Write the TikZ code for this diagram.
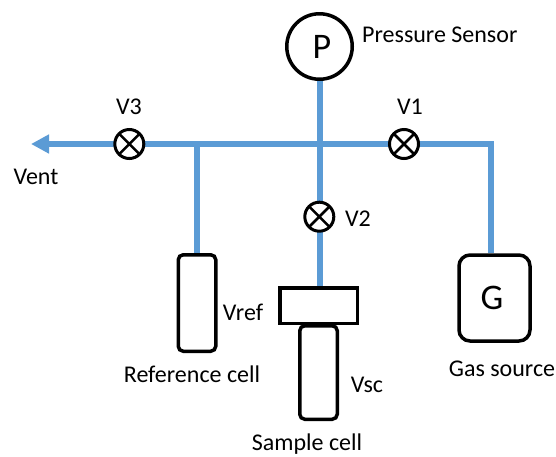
\documentclass[tikz,border=0pt]{standalone}
\usepackage{fontspec}
\setmainfont{Carlito}
\usetikzlibrary{arrows.meta}
\definecolor{pipeblue}{HTML}{5B9BD5}
\begin{document}
\begin{tikzpicture}[x=1pt,y=-1pt,
  pipe/.style={draw=pipeblue,line width=6pt},
  valve/.style={circle,draw=black,line width=3pt,fill=white,minimum size=29pt,inner sep=0pt,path picture={\draw[line width=2.5pt] (path picture bounding box.north west)--(path picture bounding box.south east) (path picture bounding box.north east)--(path picture bounding box.south west);}},
  cell/.style={draw=black,line width=3.5pt,rounded corners=5pt,fill=white,inner sep=0pt},
  lbl/.style={inner sep=0pt,font=\fontsize{24}{28}\selectfont},
  biglbl/.style={inner sep=0pt,font=\fontsize{36}{40}\selectfont}]
\useasboundingbox (0,0) rectangle (556,456);
\fill[white] (0,0) rectangle (556,456);
\coordinate (ventend) at (31,144);
\coordinate (gascorner) at (494,144);
\coordinate (gastop) at (491,141);
\coordinate (j1) at (197,144);
\node[circle,draw=black,line width=3.5pt,fill=white,minimum size=65.5pt,inner sep=0pt] (P) at (319.5,46.5) {};
\node[cell,minimum width=37.5pt,minimum height=96.5pt] (ref) at (197,303) {};
\node[cell,minimum width=71pt,minimum height=86pt,rounded corners=11pt] (G) at (494.5,298) {};
\node[cell,minimum width=37.5pt,minimum height=93.5pt] (sc) at (318.5,372.5) {};
\node[draw=black,line width=3.5pt,fill=white,minimum width=77.5pt,minimum height=35.5pt,inner sep=0pt] (cap) at (318.5,305.5) {};
\draw[pipe,-{Triangle[length=18pt,width=18pt]}] (gascorner) -- (ventend);
\draw[pipe] (gastop) -- (gastop |- G.north);
\draw[pipe] (j1) -- (ref.north);
\draw[pipe] (P.south) -- (P.south |- cap.north);
\node[valve] (v3) at (129.3,144) {};
\node[valve] (v1) at (404,144) {};
\node[valve] (v2) at (319.3,216.7) {};
\node[biglbl] (Ptext) at (322,47) {P};
\node[biglbl] (Gtext) at (492,298) {G};
\node[lbl,anchor=west] (lpress) at (362,35) {Pressure Sensor};
\node[lbl] (lv3) at (129,107) {V3};
\node[lbl] (lv1) at (410,107) {V1};
\node[lbl] (lv2) at (358,219) {V2};
\node[lbl] (lvent) at (36,177) {Vent};
\node[lbl] (lvref) at (243,312) {Vref};
\node[lbl] (lrefc) at (192,374) {Reference cell};
\node[lbl] (lvsc) at (367,385) {Vsc};
\node[lbl] (lsamp) at (307,444.5) {Sample cell};
\node[lbl] (lgas) at (502,369) {Gas source};
\end{tikzpicture}
\end{document}
